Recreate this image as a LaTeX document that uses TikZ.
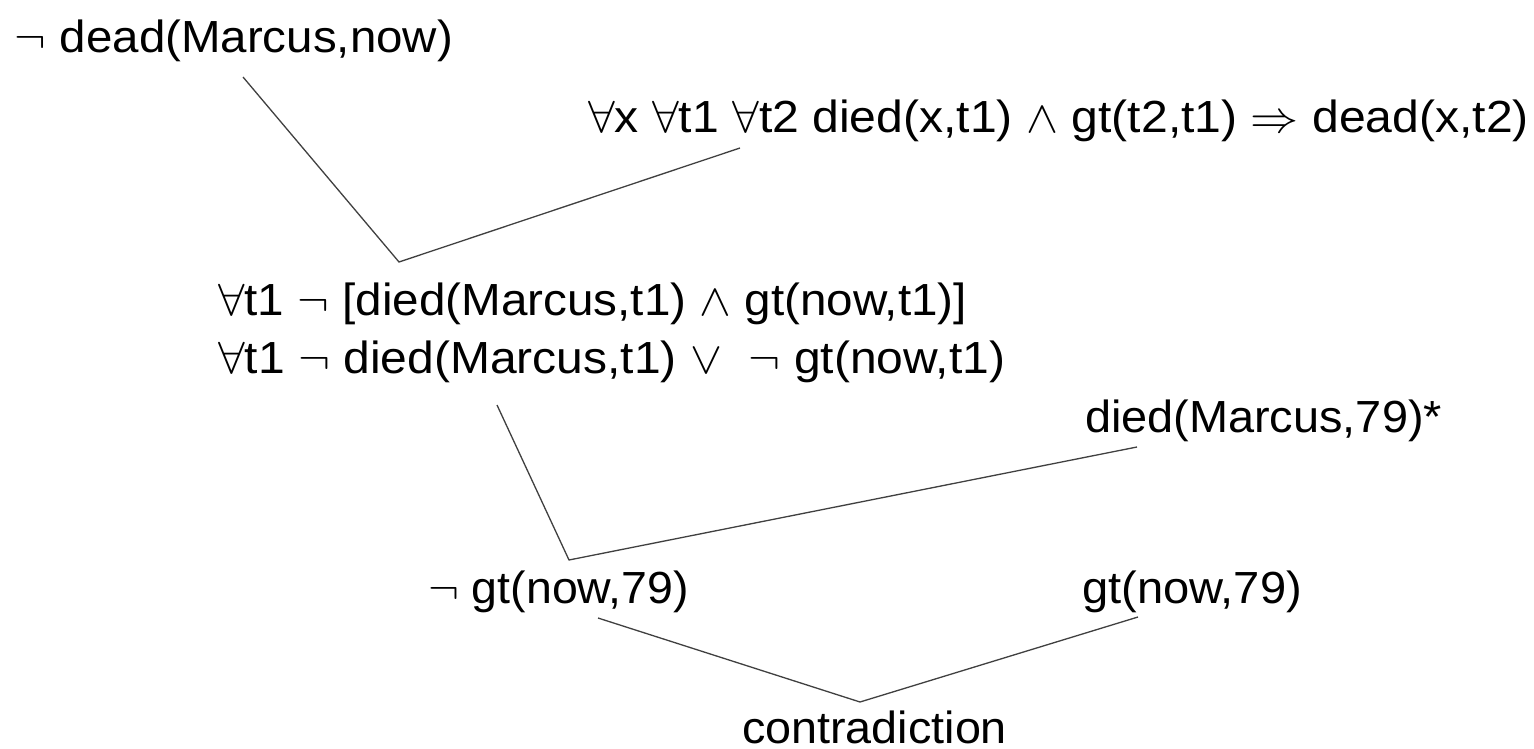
\documentclass[tikz,border=0pt]{standalone}
\usepackage{graphicx}
\usepackage{fontspec}
\setmainfont{Liberation Sans}

% set a formula at a given printed width, keeping its height
\newcommand{\fitto}[2]{\resizebox{#1}{\height}{#2}}
% thin logic symbols, drawn at 10pt and enlarged to the text size
\newcommand{\lsym}[1]{\scalebox{4.5}{\fontsize{10}{12}\selectfont$#1$}}

\tikzset{
  formula/.style={anchor=base west, inner sep=0pt, outer sep=0pt,
                  font=\fontsize{45}{54}\selectfont},
  conn/.style={line width=1.3pt, draw=black!75, line join=miter}
}

\begin{document}
\begin{tikzpicture}[x=1pt, y=1pt]
  \useasboundingbox (0,0) rectangle (1534,-749);
  \fill[white] (0,0) rectangle (1534,-749);

  % clauses of the resolution proof
  \node[formula] (goal) at (15,-53)
    {\fitto{438pt}{\lsym{\neg} dead(Marcus,now)}};
  \node[formula] (axiom) at (588,-132)
    {\fitto{941pt}{\lsym{\forall}x \lsym{\forall}t1 \lsym{\forall}t2 died(x,t1) \lsym{\wedge} gt(t2,t1) \lsym{\Rightarrow} dead(x,t2)}};
  \node[formula] (resA) at (218,-315)
    {\fitto{749pt}{\lsym{\forall}t1 \lsym{\neg} [died(Marcus,t1) \lsym{\wedge} gt(now,t1)]}};
  \node[formula] (resB) at (218,-373)
    {\fitto{787pt}{\lsym{\forall}t1 \lsym{\neg} died(Marcus,t1) \lsym{\vee}\ \ \lsym{\neg} gt(now,t1)}};
  \node[formula] (fact) at (1085,-432)
    {\fitto{357pt}{died(Marcus,79)*}};
  \node[formula] (negGt) at (428,-603)
    {\fitto{261pt}{\lsym{\neg} gt(now,79)}};
  \node[formula] (posGt) at (1082,-603)
    {\fitto{220pt}{gt(now,79)}};
  \node[formula] (contra) at (742,-743)
    {\fitto{265pt}{contradiction}};

  % connector ends beneath the clauses and the joints where they meet
  \coordinate (goalEnd)  at (243,-77);
  \coordinate (axiomEnd) at (740,-148);
  \coordinate (join1)    at (399,-262);
  \coordinate (resEnd)   at (497,-405);
  \coordinate (factEnd)  at (1137,-447);
  \coordinate (join2)    at (569,-560);
  \coordinate (negEnd)   at (598,-618);
  \coordinate (posEnd)   at (1138,-617);
  \coordinate (join3)    at (860,-702);

  \draw[conn] (goalEnd) -- (join1) -- (axiomEnd);
  \draw[conn] (resEnd) -- (join2) -- (factEnd);
  \draw[conn] (negEnd) -- (join3) -- (posEnd);
\end{tikzpicture}
\end{document}
